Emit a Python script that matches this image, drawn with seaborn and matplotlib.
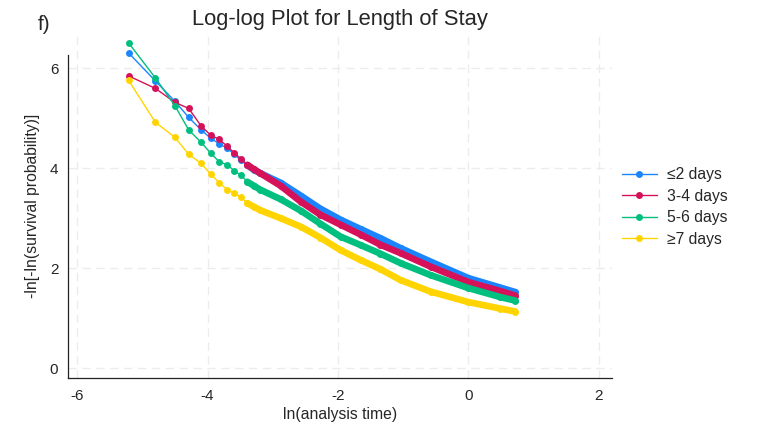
#!/usr/bin/env python3
# Log-log plot for length of stay (stphplot style), redrawn with seaborn

import pandas as pd
import matplotlib

matplotlib.use("Agg")
import matplotlib.pyplot as plt  # noqa: E402
import seaborn as sns  # noqa: E402
from matplotlib.lines import Line2D  # noqa: E402

# ln(analysis time) at the points
ln_time = [-5.21, -4.80, -4.50, -4.29, -4.10, -3.95, -3.82, -3.70, -3.59, -3.49,
           -3.39, -3.29, -3.19, -2.88, -2.57, -2.27, -1.96, -1.65, -1.35, -1.04,
           -0.58, 0.00, 0.49, 0.72]

groups = ["≤2 days", "3-4 days", "5-6 days", "≥7 days"]
colors = ["#1a85ff", "#d41159", "#00bf7f", "#ffd400"]

le2 = [6.31, 5.75, 5.34, 5.02, 4.77, 4.60, 4.49, 4.40, 4.28, 4.16,
       4.06, 3.97, 3.90, 3.71, 3.45, 3.19, 2.97, 2.78, 2.60, 2.40,
       2.13, 1.80, 1.61, 1.52]
d34 = [5.85, 5.60, 5.32, 5.20, 4.85, 4.66, 4.58, 4.44, 4.31, 4.19,
       4.07, 3.98, 3.90, 3.65, 3.33, 3.07, 2.87, 2.67, 2.47, 2.30,
       2.03, 1.72, 1.54, 1.45]
d56 = [6.51, 5.81, 5.25, 4.77, 4.52, 4.30, 4.13, 4.07, 3.95, 3.86,
       3.73, 3.65, 3.57, 3.38, 3.15, 2.89, 2.63, 2.46, 2.29, 2.10,
       1.86, 1.60, 1.42, 1.35]
ge7 = [5.76, 4.92, 4.62, 4.28, 4.10, 3.88, 3.71, 3.57, 3.50, 3.43,
       3.30, 3.23, 3.16, 3.00, 2.83, 2.61, 2.36, 2.16, 1.98, 1.76,
       1.53, 1.32, 1.19, 1.13]

series = [le2, d34, d56, ge7]

x_ticks = [-6, -4, -2, 0, 2]
y_ticks = [0, 2, 4, 6]

# where markers merge into a continuous band in the original
dense_from = -3.40


def main() -> None:
    sns.set_style("white")
    plt.rcParams["font.family"] = ["Liberation Sans", "DejaVu Sans"]

    frames = []
    for name, vals in zip(groups, series):
        frames.append(pd.DataFrame({"lntime": ln_time, "value": vals, "group": name}))
    df = pd.concat(frames, ignore_index=True)

    fig = plt.figure(figsize=(7.7, 4.3), dpi=100)
    ax = fig.add_axes([68 / 770, 52 / 430, 544 / 770, 345 / 430])

    for i, (name, col) in enumerate(zip(groups, colors)):
        sub = df[df["group"] == name]
        sns.lineplot(ax=ax, data=sub, x="lntime", y="value", color=col,
                     marker="o", markersize=5, markeredgewidth=0,
                     linewidth=1.0, sort=False, legend=False, zorder=3 + i)
        dense = sub[sub["lntime"] >= dense_from]
        sns.lineplot(ax=ax, data=dense, x="lntime", y="value", color=col,
                     linewidth=4.8, solid_capstyle="round", solid_joinstyle="round",
                     sort=False, legend=False, zorder=3 + i)

    ax.set_xlim(-6.14, 2.2)
    ax.set_ylim(-0.2, 6.71)
    ax.set_xticks(x_ticks)
    ax.set_yticks(y_ticks)
    ax.set_xticklabels([str(t) for t in x_ticks])
    ax.set_yticklabels([str(t) for t in y_ticks])
    ax.grid(True, color="#ececec", linestyle=(0, (6, 4)), linewidth=1.0)
    ax.set_axisbelow(True)

    for side in ("top", "right"):
        ax.spines[side].set_visible(False)
    for side in ("left", "bottom"):
        ax.spines[side].set_color("#222222")
        ax.spines[side].set_linewidth(0.9)
    ax.spines["left"].set_bounds(-0.2, 6.26)
    ax.tick_params(direction="out", length=5, width=0.9, color="#222222",
                   labelsize=11, pad=3)
    ax.tick_params(axis="y", pad=2)

    ax.set_xlabel("ln(analysis time)", fontsize=11.3, labelpad=2.5)
    ax.set_ylabel("-ln[-ln(survival probability)]", fontsize=11.3, labelpad=7)

    handles = [Line2D([0], [0], color=c, linewidth=1.0, marker="o",
                      markersize=5, markeredgewidth=0) for c in colors]
    fig.legend(handles, groups, loc="center left", bbox_to_anchor=(608 / 770, 1 - 207 / 430),
               frameon=False, fontsize=11.3, handlelength=2.2, handletextpad=0.65,
               labelspacing=0.42)

    fig.text(340 / 770, 1 - 19 / 430, "Log-log Plot for Length of Stay",
             ha="center", va="center", fontsize=15.8)
    fig.text(38 / 770, 1 - 25 / 430, "f)", ha="left", va="center", fontsize=15)

    fig.savefig("out.png", dpi=100)
    plt.close(fig)


if __name__ == "__main__":
    main()
